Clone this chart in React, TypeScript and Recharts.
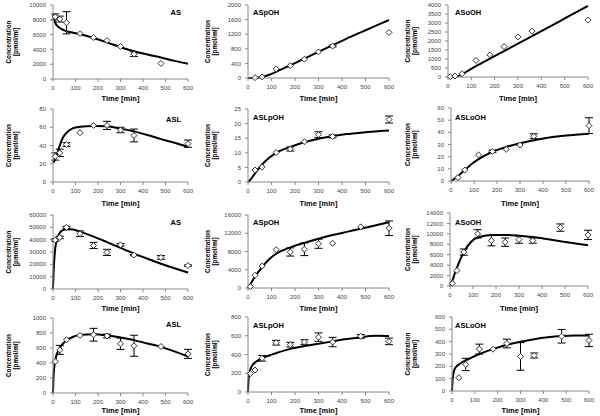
import { ComposedChart, Line, Scatter, XAxis, YAxis, ErrorBar } from "recharts";

// sampling times of the measured points and of the fitted model curves
const sampleTimes = [10, 30, 60, 120, 180, 240, 300, 360, 480, 600];
const fitTimes = [0, 3, 10, 20, 30, 45, 60, 90, 120, 180, 240, 300, 360, 420, 480, 540, 600];
const timeTicks = [0, 100, 200, 300, 400, 500, 600];

const titles = ["AS", "ASpOH", "ASoOH", "ASL", "ASLpOH", "ASLoOH", "AS", "ASpOH", "ASoOH", "ASL", "ASLpOH", "ASLoOH"];

// row 1
const asMeanA = [8400, 8100, 7600, 6150, 5600, 5200, 4400, 3350, 2100, null];
const asErrA = [400, 400, 1500, 0, 0, 0, 0, 300, 0, 0];
const asFitA = [8700, 8300, 7600, 7150, 6900, 6650, 6450, 6250, 6050, 5550, 4950, 4300, 3750, 3300, 2900, 2450, 2050];
const asTicksA = [0, 2000, 4000, 6000, 8000, 10000];

const aspohMeanA = [null, 10, 30, 250, 340, 515, 715, 875, null, 1250];
const aspohErrA = [0, 0, 0, 0, 0, 0, 0, 25, 0, 0];
const aspohFitA = [0, 0, 0, 2, 5, 15, 30, 90, 170, 350, 530, 715, 900, 1080, 1250, 1420, 1590];
const aspohTicksA = [0, 400, 800, 1200, 1600, 2000];

const asoohMeanA = [20, 55, 180, 920, 1230, 1690, 2230, 2550, null, 3160];
const asoohErrA = [0, 0, 0, 0, 0, 0, 0, 0, 0, 0];
const asoohFitA = [0, 0, 0, 5, 15, 60, 150, 380, 600, 1020, 1440, 1850, 2270, 2690, 3110, 3530, 3950];
const asoohTicksA = [0, 500, 1000, 1500, 2000, 2500, 3000, 3500, 4000];

// row 2
const aslMeanA = [28, 32, 41, 54, 62, 62, 57, 51, null, 42];
const aslErrA = [4, 4, 2, 0, 0, 4.5, 3, 7, 0, 4];
const aslFitA = [21, 22, 25, 32, 40, 49, 54, 59, 60.5, 61.5, 61, 58.5, 55.5, 51.5, 47, 43, 38.5];
const aslTicksA = [0, 20, 40, 60, 80];

const aslpohMeanA = [null, 4.1, 5.1, 10.1, 11.3, 13.8, 16.2, 15.6, null, 21.4];
const aslpohErrA = [0, 0, 0, 0, 0.7, 0, 1, 0.5, 0, 1.2];
const aslpohFitA = [0, 0.2, 0.8, 1.8, 3, 4.6, 6, 8.3, 10, 12, 13.6, 14.8, 15.7, 16.4, 16.9, 17.3, 17.6];
const aslpohTicksA = [0, 5, 10, 15, 20, 25];

const asloohMeanA = [null, 2.8, 9, 21.5, 24.3, 26, 29.5, 36.8, null, 45.5];
const asloohErrA = [0, 0, 0, 0, 1, 0, 0, 2, 0, 6.5];
const asloohFitA = [0, 0.3, 1.2, 2.6, 4, 6.5, 9, 14, 18, 24, 28, 31, 33.5, 35.5, 37, 38, 38.8];
const asloohTicksA = [0, 10, 20, 30, 40, 50, 60];

// row 3
const asMeanB = [39700, 41800, 50000, 44800, 35300, 29700, 35800, 27500, 25600, 19000];
const asErrB = [1000, 1000, 800, 2300, 2500, 2500, 1000, 500, 1500, 500];
const asFitB = [0, 15000, 33000, 41500, 45500, 47800, 48500, 48300, 46500, 42500, 38000, 33300, 28700, 24500, 20500, 16800, 13300];
const asTicksB = [0, 10000, 20000, 30000, 40000, 50000, 60000];

const aspohMeanB = [300, 2800, 4800, 8400, 7900, 8500, 9700, 9800, 13400, 13100];
const aspohErrB = [0, 0, 0, 0, 900, 1400, 1000, 0, 0, 1600];
const aspohFitB = [0, 200, 800, 1700, 2500, 3600, 4600, 6300, 7500, 8900, 9900, 10800, 11600, 12300, 13000, 13700, 14400];
const aspohTicksB = [0, 4000, 8000, 12000, 16000];

const asoohMeanB = [500, 2950, 6500, 10000, 8700, 8400, 8900, 8700, 11200, 9800];
const asoohErrB = [0, 0, 600, 800, 1000, 800, 700, 500, 700, 900];
const asoohFitB = [0, 300, 1000, 2300, 3500, 5100, 6500, 8400, 9300, 9800, 9800, 9650, 9400, 9000, 8600, 8200, 7800];
const asoohTicksB = [0, 2000, 4000, 6000, 8000, 10000, 12000, 14000];

// row 4
const aslMeanB = [420, 575, 710, 768, 777, 760, 656, 630, 620, 522];
const aslErrB = [0, 60, 0, 0, 85, 25, 75, 140, 0, 60];
const aslFitB = [0, 250, 430, 540, 600, 660, 700, 750, 775, 785, 770, 740, 705, 660, 615, 555, 485];
const aslTicksB = [0, 200, 400, 600, 800, 1000];

const aslpohMeanB = [196, 235, 360, 526, 505, 533, 585, 533, 594, 540];
const aslpohErrB = [0, 0, 30, 25, 25, 25, 45, 50, 20, 35];
const aslpohFitB = [0, 150, 240, 290, 315, 340, 360, 390, 415, 460, 490, 515, 540, 565, 585, 600, 598];
const aslpohTicksB = [0, 200, 400, 600, 800];

const asloohMeanB = [null, 108, 215, 340, 339, 385, 280, 288, 444, 410];
const asloohErrB = [0, 0, 50, 40, 0, 35, 112, 20, 55, 50];
const asloohFitB = [0, 100, 170, 200, 215, 233, 248, 275, 300, 340, 375, 400, 420, 435, 445, 450, 450];
const asloohTicksB = [0, 100, 200, 300, 400, 500, 600];

const means = [asMeanA, aspohMeanA, asoohMeanA, aslMeanA, aslpohMeanA, asloohMeanA, asMeanB, aspohMeanB, asoohMeanB, aslMeanB, aslpohMeanB, asloohMeanB];
const errs = [asErrA, aspohErrA, asoohErrA, aslErrA, aslpohErrA, asloohErrA, asErrB, aspohErrB, asoohErrB, aslErrB, aslpohErrB, asloohErrB];
const fits = [asFitA, aspohFitA, asoohFitA, aslFitA, aslpohFitA, asloohFitA, asFitB, aspohFitB, asoohFitB, aslFitB, aslpohFitB, asloohFitB];
const yTicks = [asTicksA, aspohTicksA, asoohTicksA, aslTicksA, aslpohTicksA, asloohTicksA, asTicksB, aspohTicksB, asoohTicksB, aslTicksB, aslpohTicksB, asloohTicksB];

// layout: [left, right, top, bottom] of each plot inside its 200x104 cell
const rowTops = [0, 105, 210, 312];
const boxes = [
  [53, 12, 5, 25], [48, 11, 5, 26], [48, 12, 5, 27],
  [53, 12, 4, 27], [48, 11, 4, 27], [51, 11, 3, 28],
  [53, 12, 5, 25], [48, 11, 5, 26], [50, 12, 3, 28],
  [53, 12, 6, 23], [48, 11, 5, 24], [52, 11, 5, 25],
];
const labelX = [[8, 15], [7, 14], [7.5, 14.5]];
const titleY = [
  [14.7, 14.7, 14.7],
  [16.7, 14.7, 14.7],
  [14.7, 14.7, 14.7],
  [14.7, 15.7, 15.7],
];

const FONT = "'Liberation Sans', Arial, sans-serif";
const W = 200;
const H = 104;

const Diamond = (props: any) => {
  const { cx, cy } = props;
  if (cx == null || cy == null) return null;
  const r = 3;
  return <polygon points={`${cx},${cy - r} ${cx + r},${cy} ${cx},${cy + r} ${cx - r},${cy}`} fill="#fff" stroke="#333" strokeWidth={1} />;
};

function Panel({ i }: { i: number }) {
  const col = i % 3;
  const row = Math.floor(i / 3);
  const [left, right, top, bottom] = boxes[i];
  const points = sampleTimes
    .map((t, k) => ({ t, v: means[i][k], e: errs[i][k] }))
    .filter((d) => d.v != null);
  const fit = fitTimes.map((t, k) => ({ t, f: fits[i][k] }));
  const ticks = yTicks[i];
  const plotMidY = top + (H - top - bottom) / 2;
  const plotMidX = left + (W - left - right) / 2;
  const [lx1, lx2] = labelX[col];
  const ty = titleY[row][col];

  return (
    <div style={{ position: "absolute", left: col * 200, top: rowTops[row], width: W, height: H }}>
      <ComposedChart width={W} height={H} margin={{ top, right, bottom: 0, left: 0 }}>
        <XAxis
          dataKey="t"
          type="number"
          domain={[0, 600]}
          ticks={timeTicks}
          interval={0}
          height={bottom}
          axisLine={{ stroke: "#888" }}
          tickLine={{ stroke: "#888" }}
          tickSize={3}
          tickMargin={4}
          tick={{ fontSize: 6, fill: "#444", fontFamily: FONT }}
        />
        <YAxis
          type="number"
          domain={[0, ticks[ticks.length - 1]]}
          ticks={ticks}
          interval={0}
          width={left}
          axisLine={{ stroke: "#888" }}
          tickLine={{ stroke: "#888" }}
          tickSize={3}
          tickMargin={4}
          tick={{ fontSize: 6, fill: "#444", fontFamily: FONT }}
        />
        <Scatter data={points} dataKey="v" shape={Diamond} isAnimationActive={false}>
          <ErrorBar dataKey="e" direction="y" width={4} stroke="#000" strokeWidth={1} />
        </Scatter>
        <Line data={fit} dataKey="f" type="monotone" stroke="#000" strokeWidth={2} dot={false} isAnimationActive={false} />
        <g fontFamily={FONT} fontWeight="bold" fill="#000">
          {col === 0 ? (
            <text x={181} y={ty} fontSize={7.5} textAnchor="end">{titles[i]}</text>
          ) : (
            <text x={col === 1 ? 53 : 55} y={ty} fontSize={7.5}>{titles[i]}</text>
          )}
          <text x={plotMidX} y={101} fontSize={7.5} textAnchor="middle">Time [min]</text>
          <text transform={`translate(${lx1 + 2.7},${plotMidY}) rotate(-90)`} fontSize={7.5} textAnchor="middle" textLength={43} lengthAdjust="spacingAndGlyphs">Concentration</text>
          <text transform={`translate(${lx2 + 2.7},${plotMidY}) rotate(-90)`} fontSize={7.5} textAnchor="middle" textLength={28} lengthAdjust="spacingAndGlyphs">[pmol/ml]</text>
        </g>
      </ComposedChart>
    </div>
  );
}

export default function App() {
  return (
    <div style={{ position: "absolute", left: 0, top: 0, width: 600, height: 416, background: "#fff", overflow: "hidden" }}>
      {titles.map((_, i) => (
        <Panel key={i} i={i} />
      ))}
    </div>
  );
}
